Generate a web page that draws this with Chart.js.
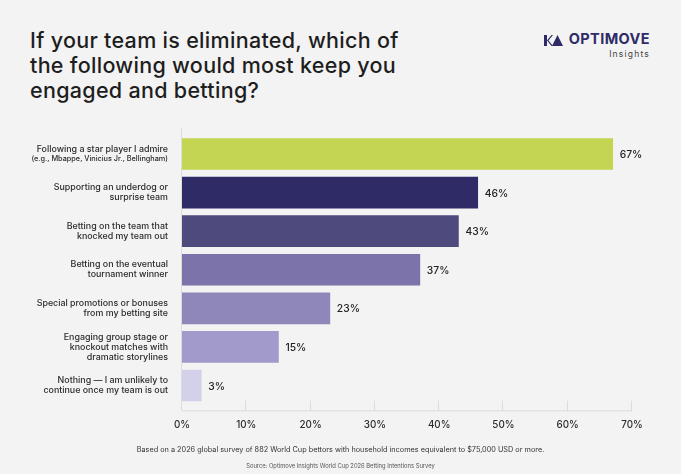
<!DOCTYPE html>
<html>
<head>
<meta charset="utf-8">
<script src="https://cdn.jsdelivr.net/npm/chart.js@4.4.1/dist/chart.umd.min.js"></script>
<style>
  html, body { margin: 0; padding: 0; background: #f3f3f3; }
  body { width: 681px; height: 474px; position: relative; overflow: hidden; font-family: 'Inter', sans-serif; }
  #chart { position: absolute; left: 0; top: 0; }
  .title { position: absolute; left: 30px; top: 28px; font-size: 21.5px; line-height: 25px; font-weight: 500; color: #1e1e1e; letter-spacing: 0.3px; }
  .logo { position: absolute; right: 31px; top: 31px; text-align: right; }
  .logo .name { font-size: 14.5px; font-weight: 700; color: #2e2b67; letter-spacing: 0.4px; line-height: 16px; }
  .logo svg { vertical-align: -2px; margin-right: 6px; }
  .logo .sub { font-size: 8.5px; color: #444; letter-spacing: 1.2px; margin-top: 2px; }
  .note { position: absolute; left: 0; width: 681px; text-align: center; color: #333; }
  .note1 { top: 445px; font-size: 7.3px; }
  .note2 { top: 462px; font-size: 5.8px; color: #555; }
</style>
</head>
<body>
<div class="title">If your team is eliminated, which of<br>the following would most keep you<br>engaged and betting?</div>
<div class="logo">
  <div class="name"><svg width="19" height="11" viewBox="0 0 19 11"><path d="M0 0h3v11H0z M3 5.5L7.5 0h1.5L4.5 5.5 9 11H7.5z" fill="#2e2b67"/><path d="M13.5 0L19 11H8z" fill="#2e2b67"/></svg>OPTIMOVE</div>
  <div class="sub">Insights</div>
</div>
<canvas id="chart" width="681" height="474"></canvas>
<div class="note note1">Based on a 2026 global survey of 882 World Cup bettors with household incomes equivalent to $75,000 USD or more.</div>
<div class="note note2">Source: Optimove Insights World Cup 2026 Betting Intentions Survey</div>

<script>
// Categories (each line of the label is its own string)
const categories = [
    ['Following a star player I admire', '(e.g., Mbappe, Vinicius Jr., Bellingham)'],
    ['Supporting an underdog or', 'surprise team'],
    ['Betting on the team that', 'knocked my team out'],
    ['Betting on the eventual', 'tournament winner'],
    ['Special promotions or bonuses', 'from my betting site'],
    ['Engaging group stage or', 'knockout matches with', 'dramatic storylines'],
    ['Nothing \u2014 I am unlikely to', 'continue once my team is out']
];
const values = [67, 46, 43, 37, 23, 15, 3];
const barColors = ['#c4d554', '#2e2b67', '#4f4a7d', '#7b73a9', '#8f87b9', '#a19acb', '#d3d0e9'];
const xTicks = [0, 10, 20, 30, 40, 50, 60, 70];

const FONT = "'Inter', sans-serif";

// category labels to the left of the bars
const categoryLabels = {
    id: 'categoryLabels',
    afterDraw(chart) {
        const ctx = chart.ctx;
        const yScale = chart.scales.y;
        ctx.save();
        ctx.fillStyle = '#2b2b2b';
        ctx.textAlign = 'right';
        ctx.textBaseline = 'middle';
        categories.forEach((lines, i) => {
            const yc = yScale.getPixelForValue(i);
            const lh = 10;
            const y0 = yc - (lines.length - 1) * lh / 2;
            lines.forEach((line, j) => {
                const small = line.startsWith('(e.g.');
                ctx.font = (small ? '500 7.3px ' : '500 8.9px ') + FONT;
                ctx.fillText(line, 168, y0 + j * lh);
            });
        });
        ctx.restore();
    }
};

// value labels at the end of each bar
const valueLabels = {
    id: 'valueLabels',
    afterDatasetsDraw(chart) {
        const ctx = chart.ctx;
        const meta = chart.getDatasetMeta(0);
        ctx.save();
        ctx.fillStyle = '#222';
        ctx.font = '500 10.3px ' + FONT;
        ctx.textAlign = 'left';
        ctx.textBaseline = 'middle';
        meta.data.forEach((bar, i) => {
            ctx.fillText(values[i] + '%', bar.x + 7, bar.y + 1);
        });
        ctx.restore();
    }
};

// axis lines: left border and bottom baseline with short ticks
const axisLines = {
    id: 'axisLines',
    beforeDatasetsDraw(chart) {
        const ctx = chart.ctx;
        const x = chart.scales.x;
        const area = chart.chartArea;
        const base = area.bottom + 6;
        ctx.save();
        ctx.strokeStyle = '#dcdcdc';
        ctx.lineWidth = 1;
        ctx.beginPath();
        ctx.moveTo(area.left - 0.5, area.top - 7);
        ctx.lineTo(area.left - 0.5, base);
        ctx.lineTo(x.getPixelForValue(70), base);
        xTicks.slice(1).forEach(t => {
            const px = Math.round(x.getPixelForValue(t)) - 0.5;
            ctx.moveTo(px, base);
            ctx.lineTo(px, base - 10);
        });
        ctx.stroke();
        ctx.restore();
    }
};

new Chart(document.getElementById('chart'), {
    type: 'bar',
    data: {
        labels: categories,
        datasets: [{
            data: values,
            backgroundColor: barColors,
            borderWidth: 0,
            barThickness: 31
        }]
    },
    options: {
        indexAxis: 'y',
        responsive: false,
        animation: false,
        layout: { padding: { top: 134.7, right: 49, bottom: 0, left: 0 } },
        plugins: {
            legend: { display: false },
            tooltip: { enabled: false }
        },
        scales: {
            y: {
                ticks: { display: false },
                grid: { display: false },
                border: { display: false },
                afterFit(scale) { scale.width = 182; }
            },
            x: {
                min: 0,
                max: 70,
                afterBuildTicks(scale) { scale.ticks = xTicks.map(v => ({ value: v })); },
                ticks: {
                    padding: 14,
                    color: '#2b2b2b',
                    font: { family: FONT, size: 9.8, weight: '500' },
                    callback: v => v + '%'
                },
                grid: { display: false, drawTicks: false },
                border: { display: false },
                afterFit(scale) { scale.height = 474 - 404.8; }
            }
        }
    },
    plugins: [axisLines, categoryLabels, valueLabels]
});
</script>
</body>
</html>
